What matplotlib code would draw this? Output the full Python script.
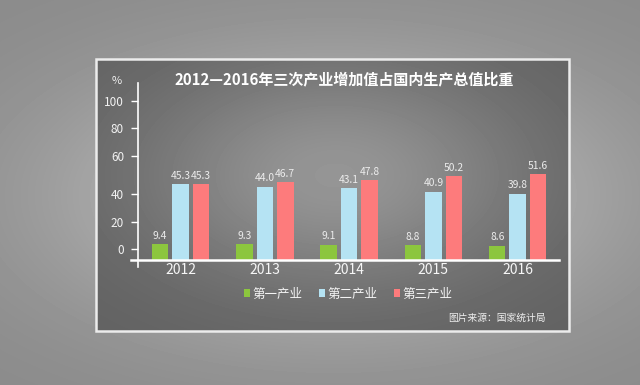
import numpy as np
import matplotlib.pyplot as plt
from matplotlib.patches import Rectangle, Patch

plt.rcParams['font.family'] = ['Noto Sans CJK SC', 'DejaVu Sans']

# data
years = ['2012', '2013', '2014', '2015', '2016']
primary = [9.4, 9.3, 9.1, 8.8, 8.6]
secondary = [45.3, 44.0, 43.1, 40.9, 39.8]
tertiary = [45.3, 46.7, 47.8, 50.2, 51.6]
series_names = ['第一产业', '第二产业', '第三产业']
# the printed y axis is not to scale with the bars, ticks sit where they appear
tick_pos = [6.6, 22.8, 39.5, 62.3, 79.0, 95.2]
tick_labels = ['0', '20', '40', '60', '80', '100']

colors = ['#8cc63e', '#b5e3f3', '#fd7b7c']
title = '2012—2016年三次产业增加值占国内生产总值比重'

W, H = 640, 385
fig = plt.figure(figsize=(6.4, 3.85), dpi=100)

# background: grey with a soft glow, then the darker framed panel
bg = fig.add_axes([0, 0, 1, 1])
yy, xx = np.mgrid[0:H, 0:W]
d = np.sqrt(((xx - 333) / 300) ** 2 + ((yy - 195) / 150) ** 2)
v = (138 + 60 * np.exp(-d ** 2 / 0.8)) / 255
bg.imshow(v, cmap='gray', vmin=0, vmax=1, extent=(0, W, H, 0), aspect='auto')

px0, py0, px1, py1 = 96, 59, 569, 331
pd_ = np.sqrt(((xx - 335) / 240) ** 2 + ((yy - 175) / 140) ** 2)
pv = (97 + 52 * np.exp(-pd_ ** 2 / 0.65)) / 255
bg.imshow(pv[py0:py1, px0:px1], cmap='gray', vmin=0, vmax=1,
          extent=(px0, px1, py1, py0), aspect='auto')
bg.add_patch(Rectangle((px0, py0), px1 - px0, py1 - py0, fill=False,
                       ec='#ececec', lw=1.8))
bg.set_xlim(0, W)
bg.set_ylim(H, 0)
bg.axis('off')

# bar chart
ax = fig.add_axes([138 / W, (H - 260) / H, (559 - 138) / W, (260 - 83) / H])
ax.patch.set_alpha(0)
x = np.arange(len(years))
step = 0.243
width = 0.196
for i, vals in enumerate([primary, secondary, tertiary]):
    xs = x + (i - 1) * step
    ax.bar(xs, vals, width, color=colors[i], label=series_names[i])
    for xi, val in zip(xs, vals):
        ax.annotate(f'{val:.1f}', (xi, val), xytext=(0, 6), textcoords='offset points',
                    ha='center', va='center', fontsize=7.4, color='#ececec')

ax.set_xlim(-0.504, 4.49)
ax.set_ylim(0, 106)
for s in ax.spines.values():
    s.set_visible(False)
ax.plot([-0.0166, 1], [0, 0], transform=ax.transAxes, color='white', lw=1.8, clip_on=False)
ax.plot([0, 0], [-0.04, 1], transform=ax.transAxes, color='white', lw=1.2, clip_on=False)

ax.set_yticks(tick_pos, tick_labels)
ax.tick_params(axis='y', length=5, width=1, color='white', pad=5,
               labelsize=8.5, labelcolor='#f2f2f2')
ax.set_xticks(x, years)
ax.tick_params(axis='x', length=0, pad=2.5, labelsize=10, labelcolor='#f6f6f6')

fig.text(117 / W, 1 - 80.7 / H, '%', ha='center', va='center', fontsize=8, color='#f0f0f0')
fig.text(344 / W, 1 - 79 / H, title, ha='center', va='center', fontsize=10.8,
         color='white', fontweight='bold')

handles = [Patch(fc=c, ec='none', label=n) for c, n in zip(colors, series_names)]
fig.legend(handles=handles, loc='center', bbox_to_anchor=(348 / W, 1 - 294 / H), ncol=3,
           frameon=False, fontsize=9, handlelength=0.5, handleheight=0.6,
           handletextpad=0.2, columnspacing=1.3, labelcolor='#f4f4f4')

fig.text(546 / W, 1 - 318 / H, '图片来源：国家统计局', ha='right', va='center',
         fontsize=7, color='#eeeeee')

fig.savefig('out.png', dpi=100)
